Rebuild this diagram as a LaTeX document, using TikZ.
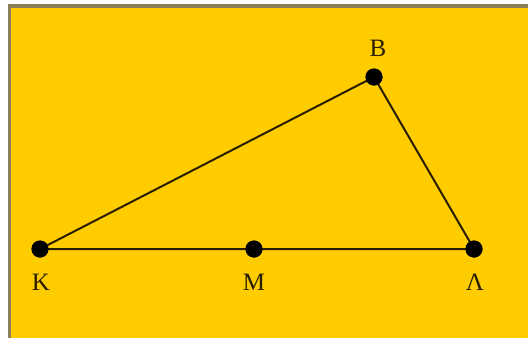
\documentclass[tikz,border=0pt]{standalone}
\usepackage{fontspec}
\setmainfont{Liberation Serif}
\definecolor{bgyellow}{HTML}{FFCC00}
\definecolor{edgegray}{HTML}{8C7E5A}
\definecolor{inkdark}{HTML}{2A1E00}
\begin{document}
\begin{tikzpicture}[x=1pt,y=-1pt,
  pt/.style={circle,fill=black,inner sep=0pt,minimum size=17pt},
  lbl/.style={text=inkdark,font=\fontsize{25}{28}\selectfont,inner sep=0pt},
  side/.style={draw=inkdark,line width=2pt}]
\useasboundingbox (0,0) rectangle (528,338);
\fill[white] (0,0) rectangle (528,338);
\fill[bgyellow] (8,5) rectangle (528,338);
\fill[edgegray] (8,4) rectangle (528,8);
\fill[edgegray] (8,4) rectangle (11,338);
\node[pt] (K) at (40,249) {};
\node[pt] (M) at (254,249) {};
\node[pt] (L) at (474,249) {};
\node[pt] (B) at (374,77) {};
\draw[side] (K.center) -- (B.center) -- (L.center) -- (K.center);
\node[pt] at (K) {};
\node[pt] at (M) {};
\node[pt] at (L) {};
\node[pt] at (B) {};
\node[lbl] (tB) at (378,48) {Β};
\node[lbl] (tK) at (41,282) {Κ};
\node[lbl] (tM) at (254,282) {Μ};
\node[lbl] (tL) at (475,282) {Λ};
\end{tikzpicture}
\end{document}
